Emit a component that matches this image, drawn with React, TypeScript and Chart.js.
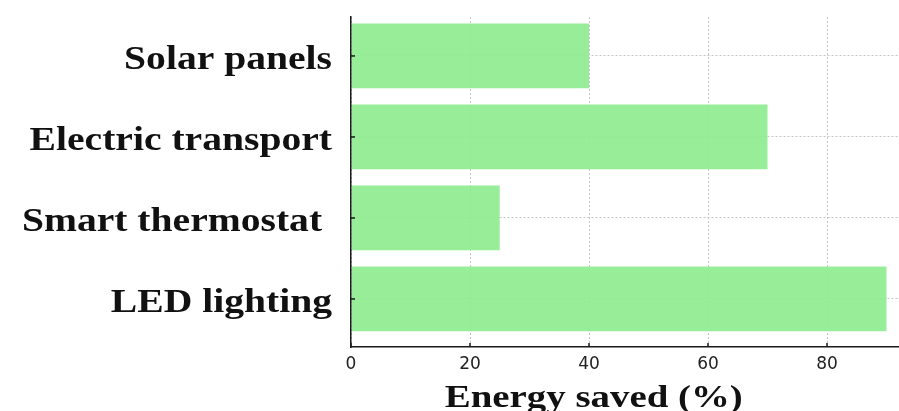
import React, { useEffect, useRef } from "react";
import { Chart, registerables } from "chart.js";

Chart.register(...registerables);

const categories: string[] = ["Solar panels", "Electric transport", "Smart thermostat ", "LED lighting"];
const energySaved: number[] = [40, 70, 25, 90];
const xTickValues: number[] = [0, 20, 40, 60, 80];
const xTitle = "Energy saved (%)";

const BAR_COLOR = "rgba(144,236,144,0.93)";
const GRID_COLOR = "#c4c4c4";
const AXIS_COLOR = "#1a1a1a";
const TEXT_COLOR = "#111111";

const textPlugin = {
  id: "customText",
  afterDraw(chart: any) {
    const { ctx, scales } = chart;
    const x = scales.x;
    const y = scales.y;
    ctx.save();
    // inward tick marks
    ctx.strokeStyle = AXIS_COLOR;
    ctx.lineWidth = 1.5;
    categories.forEach((_, i) => {
      const py = y.getPixelForValue(i);
      ctx.beginPath();
      ctx.moveTo(x.left, py);
      ctx.lineTo(x.left + 4, py);
      ctx.stroke();
    });
    xTickValues.forEach((v) => {
      const px = x.getPixelForValue(v);
      ctx.beginPath();
      ctx.moveTo(px, y.bottom);
      ctx.lineTo(px, y.bottom - 4);
      ctx.stroke();
    });
    // category labels
    ctx.fillStyle = TEXT_COLOR;
    ctx.textAlign = "right";
    ctx.textBaseline = "middle";
    ctx.font = 'bold 33px "Liberation Serif", "Times New Roman", serif';
    categories.forEach((c, i) => {
      const py = y.getPixelForValue(i) + 5;
      ctx.save();
      ctx.translate(x.left - 19, py);
      ctx.scale(1.2, 1);
      ctx.fillText(c, 0, 0);
      ctx.restore();
    });
    // x axis title
    ctx.font = 'bold 32px "Liberation Serif", "Times New Roman", serif';
    ctx.textAlign = "center";
    ctx.textBaseline = "alphabetic";
    ctx.save();
    ctx.translate(x.getPixelForValue(40.8), 407);
    ctx.scale(1.215, 1);
    ctx.fillText(xTitle, 0, 0);
    ctx.restore();
    ctx.restore();
  },
};

export default function App() {
  const canvasRef = useRef<HTMLCanvasElement | null>(null);

  useEffect(() => {
    document.body.style.margin = "0";
    document.body.style.overflow = "hidden";
    const canvas = canvasRef.current;
    if (!canvas) return;
    const chart = new Chart(canvas, {
      type: "bar",
      data: {
        datasets: [
          {
            data: categories.map((_, i) => ({ x: energySaved[i], y: i })),
            backgroundColor: BAR_COLOR,
            borderWidth: 0,
            barPercentage: 1,
            categoryPercentage: 0.8,
          },
        ],
      },
      options: {
        indexAxis: "y",
        animation: false,
        responsive: false,
        layout: { padding: { top: 17, left: 0, right: 0, bottom: 0 } },
        plugins: {
          legend: { display: false },
          tooltip: { enabled: false },
        },
        scales: {
          x: {
            type: "linear",
            min: 0,
            max: 92.1,
            afterBuildTicks: (axis: any) => {
              axis.ticks = xTickValues.map((v) => ({ value: v }));
            },
            afterFit: (scale: any) => {
              scale.height = 64;
            },
            grid: {
              color: GRID_COLOR,
              lineWidth: 1,
              drawTicks: false,
            },
            border: { display: true, color: AXIS_COLOR, width: 1.5, dash: [2, 2], z: 1 },
            ticks: {
              padding: 7,
              color: "#222",
              font: { family: "'DejaVu Sans', sans-serif", size: 17 },
              maxRotation: 0,
              autoSkip: false,
            },
          },
          y: {
            type: "linear",
            reverse: true,
            offset: false,
            min: -0.481,
            max: 3.593,
            afterBuildTicks: (axis: any) => {
              axis.ticks = categories.map((_, i) => ({ value: i }));
            },
            afterFit: (scale: any) => {
              scale.width = 351;
            },
            grid: {
              offset: false,
              color: GRID_COLOR,
              lineWidth: 1,
              drawTicks: false,
            },
            border: { display: true, color: AXIS_COLOR, width: 1.5, dash: [2, 2], z: 1 },
            ticks: { display: false },
          },
        },
      } as any,
      plugins: [textPlugin],
    });
    return () => chart.destroy();
  }, []);

  return (
    <div style={{ width: 899, height: 411 }}>
      <canvas ref={canvasRef} width={899} height={411} style={{ display: "block" }} />
    </div>
  );
}
